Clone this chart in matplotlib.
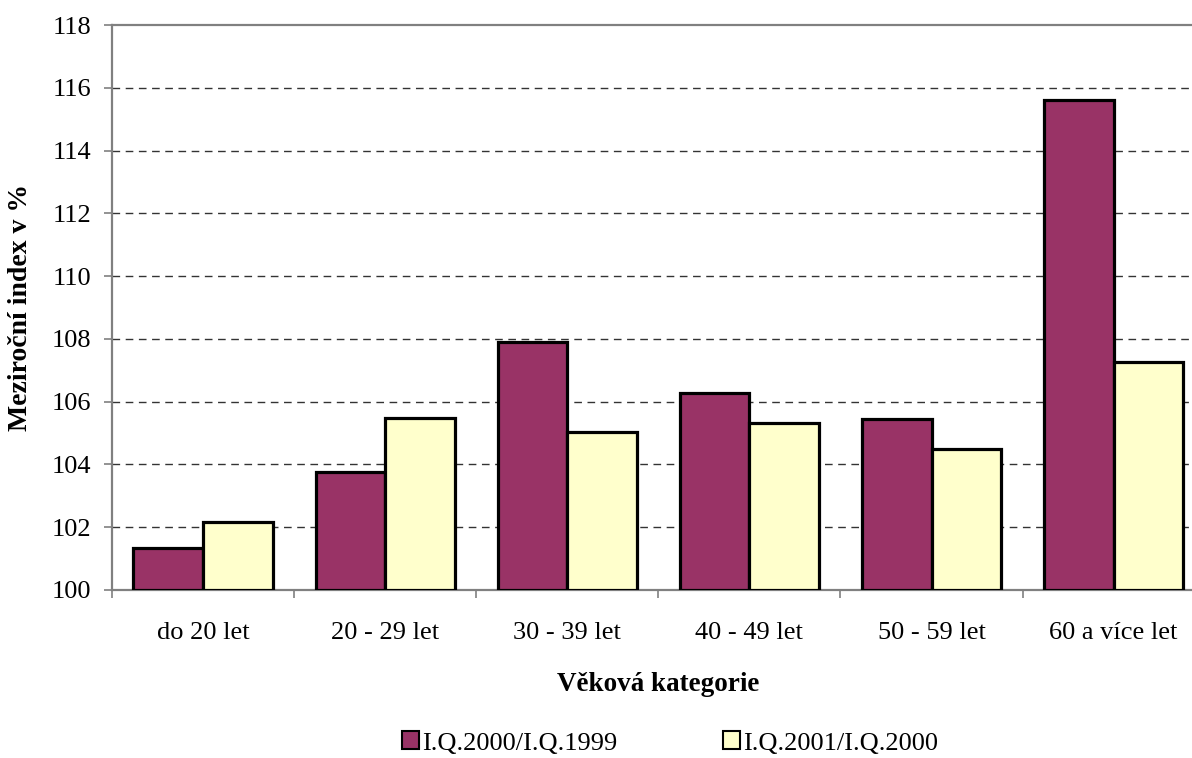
import numpy as np
import matplotlib.pyplot as plt
from matplotlib.patches import Patch

# values
categories = ["do 20 let", "20 - 29 let", "30 - 39 let", "40 - 49 let", "50 - 59 let", "60 a více let"]
series_names = ["I.Q.2000/I.Q.1999", "I.Q.2001/I.Q.2000"]
idx_2000 = [101.35, 103.77, 107.89, 106.28, 105.44, 115.62]
idx_2001 = [102.16, 105.47, 105.03, 105.32, 104.50, 107.26]
yticks = [100, 102, 104, 106, 108, 110, 112, 114, 116, 118]

maroon = "#993366"
cream = "#FFFFCC"
spine_grey = "#808080"

plt.rcParams['font.family'] = ['Liberation Serif', 'DejaVu Serif']

fig = plt.figure(figsize=(11.92, 7.58), dpi=100)
# the reference plot area runs past the right edge of the picture
ax = fig.add_axes([112/1192, 1 - 590/758, (1204.7 - 112)/1192, (590 - 25)/758])

x = np.arange(len(categories))
w = 0.382
ax.bar(x - w/2, np.array(idx_2000) - 100, w, bottom=100, color=maroon,
       edgecolor="black", linewidth=2.3, zorder=3)
ax.bar(x + w/2, np.array(idx_2001) - 100, w, bottom=100, color=cream,
       edgecolor="black", linewidth=2.3, zorder=3)

ax.set_xlim(-0.5, len(categories) - 0.5)
ax.set_ylim(100, 118)
ax.set_yticks(yticks)
ax.set_yticklabels([str(t) for t in yticks], fontsize=19)

# dashed grid, skipping the top and bottom lines
for t in yticks[1:-1]:
    ax.axhline(t, color="#333333", linestyle=(0, (5.5, 4)), linewidth=1.0, zorder=1)

ax.set_xticks(x)
ax.set_xticklabels(categories, fontsize=19)
ax.set_xticks(np.arange(len(categories) + 1) - 0.5, minor=True)
ax.tick_params(axis="x", which="major", length=0, pad=23)
ax.tick_params(axis="x", which="minor", length=6, width=1.2, color=spine_grey, direction="out")
ax.tick_params(axis="y", length=6, width=1.2, color=spine_grey, direction="out", pad=9)

for side in ["left", "bottom", "top"]:
    ax.spines[side].set_color(spine_grey)
    ax.spines[side].set_linewidth(1.6)
ax.spines["right"].set_visible(False)

ax.set_ylabel("Meziroční index v %", fontsize=20, fontweight="bold", labelpad=13)
ax.set_xlabel("Věková kategorie", fontsize=19.5, fontweight="bold", labelpad=20)

handles = [Patch(facecolor=maroon, edgecolor="black", linewidth=1.5),
           Patch(facecolor=cream, edgecolor="black", linewidth=1.5)]
fig.legend(handles, series_names, loc="center", bbox_to_anchor=(670/1192, 1 - 743/758),
           ncol=2, frameon=False, fontsize=19, handlelength=0.65, handleheight=0.65,
           handletextpad=0.1, columnspacing=4.0)

fig.savefig("out.png", dpi=100)
